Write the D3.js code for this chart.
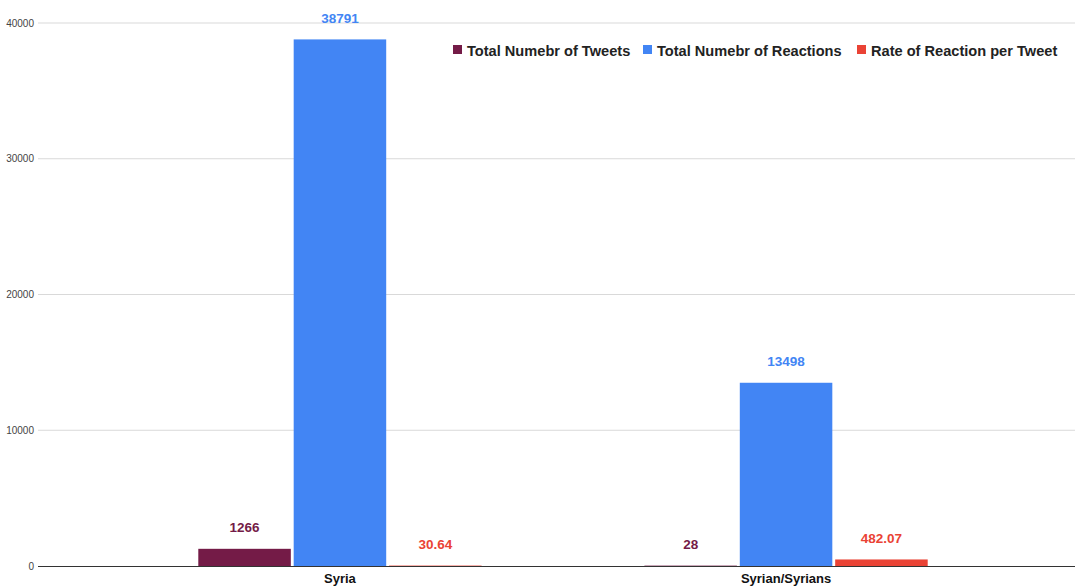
<!DOCTYPE html>
<html>
<head>
<meta charset="utf-8">
<script src="https://cdn.jsdelivr.net/npm/d3@7"></script>
<style>
  html, body { margin: 0; padding: 0; background: #fff; }
  svg { display: block; font-family: "Liberation Sans", Arial, sans-serif; }
</style>
</head>
<body>
<svg id="chart" width="1075" height="587"></svg>
<script>
// Chart data
const categories = ["Syria", "Syrian/Syrians"];
const seriesNames = ["Total Numebr of Tweets", "Total Numebr of Reactions", "Rate of Reaction per Tweet"];
const tweets = [1266, 28];
const reactions = [38791, 13498];
const ratePerTweet = [30.64, 482.07];
const seriesColors = ["#741b47", "#4285f4", "#ea4335"];
const yTicks = [0, 10000, 20000, 30000, 40000];

const seriesValues = [tweets, reactions, ratePerTweet];

const svg = d3.select("#chart");
const plotLeft = 38, plotRight = 1075, plotTop = 23, plotBottom = 566;

const y = d3.scaleLinear().domain([0, 40000]).range([plotBottom, plotTop]);

const x0 = d3.scaleBand().domain(categories).range([118, 1008]).paddingInner(0.365).paddingOuter(0.18);
const x1 = d3.scaleBand().domain(d3.range(seriesNames.length)).range([0, x0.bandwidth()]).paddingInner(0.03);

// Gridlines
svg.append("g")
  .selectAll("line")
  .data(yTicks.filter(d => d !== 0))
  .join("line")
  .attr("x1", plotLeft).attr("x2", plotRight)
  .attr("y1", d => y(d)).attr("y2", d => y(d))
  .attr("stroke", "#d9d9d9").attr("stroke-width", 1);

// Y axis labels
const yAxis = d3.axisLeft(y).tickValues(yTicks).tickSize(0).tickPadding(4).tickFormat(d3.format("d"));
const yg = svg.append("g").attr("transform", `translate(${plotLeft},0)`).call(yAxis);
yg.select(".domain").remove();
yg.selectAll("text").attr("font-size", 10).attr("fill", "#444").attr("font-family", "Liberation Sans, Arial, sans-serif");

// Bars
const groups = svg.append("g")
  .selectAll("g")
  .data(categories)
  .join("g")
  .attr("transform", d => `translate(${x0(d)},0)`);

groups.selectAll("rect")
  .data((d, i) => seriesValues.map((s, k) => ({ k, v: s[i] })))
  .join("rect")
  .attr("x", d => x1(d.k))
  .attr("width", x1.bandwidth())
  .attr("y", d => y(d.v))
  .attr("height", d => Math.max(plotBottom - y(d.v), 1))
  .attr("fill", d => seriesColors[d.k]);

// Value labels
groups.selectAll("text.val")
  .data((d, i) => seriesValues.map((s, k) => ({ k, v: s[i] })))
  .join("text")
  .attr("class", "val")
  .attr("x", d => x1(d.k) + x1.bandwidth() / 2)
  .attr("y", d => y(d.v) - 16.5)
  .attr("text-anchor", "middle")
  .attr("font-size", 13.5)
  .attr("font-weight", "bold")
  .attr("fill", d => seriesColors[d.k])
  .text(d => d.v);

// Baseline
svg.append("line")
  .attr("x1", plotLeft).attr("x2", plotRight)
  .attr("y1", plotBottom + 0.5).attr("y2", plotBottom + 0.5)
  .attr("stroke", "#333").attr("stroke-width", 1);

// Category labels
svg.append("g")
  .selectAll("text")
  .data(categories)
  .join("text")
  .attr("x", d => x0(d) + x0.bandwidth() / 2)
  .attr("y", 583)
  .attr("text-anchor", "middle")
  .attr("font-size", 13)
  .attr("font-weight", "bold")
  .attr("fill", "#111")
  .text(d => d);

// Legend
const legendX = [453, 643, 857];
const legend = svg.append("g");
seriesNames.forEach((name, k) => {
  legend.append("rect")
    .attr("x", legendX[k]).attr("y", 45)
    .attr("width", 9).attr("height", 9)
    .attr("fill", seriesColors[k]);
  legend.append("text")
    .attr("x", legendX[k] + 14).attr("y", 55.5)
    .attr("font-size", 14.6)
    .attr("font-weight", "bold")
    .attr("fill", "#222")
    .text(name);
});
</script>
</body>
</html>
